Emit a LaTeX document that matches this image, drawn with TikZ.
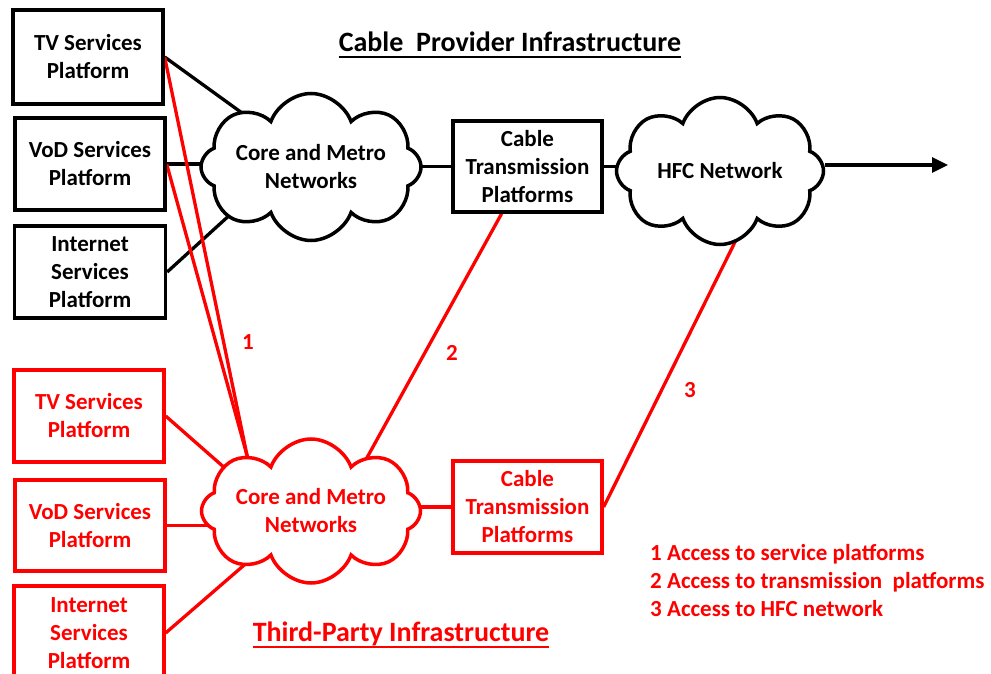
\documentclass[tikz,border=0pt]{standalone}
\usepackage{fontspec}
\setmainfont{Carlito}
\usetikzlibrary{shapes.symbols,calc,arrows.meta,backgrounds}
\definecolor{myred}{RGB}{255,0,0}
\tikzset{
  every node/.style={font=\bfseries\fontsize{23}{28}\selectfont},
  bx/.style={draw, line width=3.3pt, align=center, fill=white, inner sep=0pt},
  cl/.style={cloud, cloud puffs=8, cloud puff arc=140, cloud ignores aspect, draw, line width=3.5pt, fill=white, align=center, inner sep=0pt},
  conn/.style={line width=3.3pt},
  rconn/.style={line width=3.3pt, draw=myred},
  intoc/.style={shorten >=-14pt},
  fromc/.style={shorten <=-14pt},
  lbl/.style={text=myred}
}
\begin{document}
\begin{tikzpicture}[x=1pt,y=-1pt]
\useasboundingbox (0,0) rectangle (991,674);
% black (cable provider)
\node[bx, minimum width=150pt, minimum height=94pt] (tv1) at (88,57) {TV Services\\Platform};
\node[bx, minimum width=150pt, minimum height=92pt] (vod1) at (90,164) {VoD Services\\Platform};
\node[bx, minimum width=151pt, minimum height=92pt] (int1) at (90,272) {Internet\\Services\\Platform};
\node[cl, minimum width=220pt, minimum height=147pt] (core1) at (311,167) {Core and Metro\\Networks};
\node[bx, minimum width=149pt, minimum height=91pt] (cab1) at (527.5,166.5) {Cable\\Transmission\\Platforms};
\node[cl, minimum width=207pt, minimum height=147pt] (hfc) at (720,171) {HFC Network};
\coordinate (arrowend) at (948,165);
% red (third party)
\node[bx, draw=myred, text=myred, minimum width=150pt, minimum height=92pt] (tv2) at (89,416) {TV Services\\Platform};
\node[bx, draw=myred, text=myred, minimum width=150pt, minimum height=91pt] (vod2) at (90,525.5) {VoD Services\\Platform};
\node[bx, draw=myred, text=myred, minimum width=150pt, minimum height=94pt] (int2) at (89,633) {Internet\\Services\\Platform};
\node[cl, draw=myred, text=myred, minimum width=219pt, minimum height=144pt] (core2) at (311,511) {Core and Metro\\Networks};
\node[bx, draw=myred, text=myred, minimum width=149pt, minimum height=92pt] (cab2) at (527.5,507) {Cable\\Transmission\\Platforms};
% titles
\node[font=\bfseries\fontsize{28}{32}\selectfont, inner sep=0pt] (t1) at (510,42) {Cable\ \ Provider Infrastructure};
\draw[line width=2pt] ($(t1.base west)+(0,5)$) -- ($(t1.base east)+(0,5)$);
\node[font=\bfseries\fontsize{28}{32}\selectfont, text=myred, inner sep=0pt] (t2) at (401,634) {Third-Party Infrastructure};
\draw[line width=2pt, myred] ($(t2.base west)+(0,5)$) -- ($(t2.base east)+(0,5)$);
% legend
\node[lbl, anchor=west, align=left, inner sep=0pt] (leg) at (650,581) {1 Access to service platforms\\2 Access to transmission\ \ platforms\\3 Access to HFC network};
% number labels
\node[lbl] (n1) at (248,342) {1};
\node[lbl] (n2) at (452,353) {2};
\node[lbl] (n3) at (690,390) {3};
\begin{scope}[on background layer]
% black connectors
\draw[conn, intoc] (tv1.east) -- (core1.142);
\draw[conn, intoc] (vod1.east) -- (vod1.east -| core1.west);
\draw[conn, intoc] (int1.east) -- (core1.211);
\draw[conn, fromc] (core1.east |- cab1.west) -- (cab1.west);
\draw[conn, intoc] (cab1.east) -- (cab1.east -| hfc.west);
% red connectors (third party)
\draw[rconn, intoc] (tv2.east) -- (core2.153);
\draw[rconn, intoc] (vod2.east) -- (vod2.east -| core2.west);
\draw[rconn, intoc] (int2.east) -- (core2.219);
\draw[rconn, fromc] (core2.east |- cab2.west) -- (cab2.west);
% access lines
\draw[rconn, intoc] (tv1.east) -- (core2.139);
\draw[rconn, intoc] (vod1.east) -- (core2.139);
\draw[rconn, intoc] ($(cab1.south west)!0.33!(cab1.south east)$) -- (core2.44);
\draw[rconn, fromc] (hfc.281) -- (cab2.east);
\end{scope}
\draw[conn, -{Triangle[length=16pt,width=15pt]}] (hfc.east |- arrowend) -- (arrowend);
\end{tikzpicture}
\end{document}
